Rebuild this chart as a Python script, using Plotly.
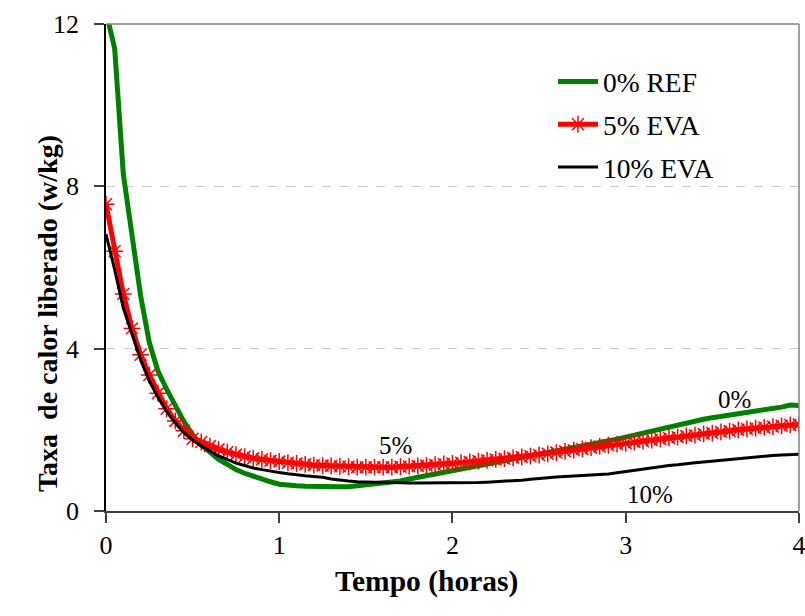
import plotly.graph_objects as go

# time in hours, every 0.05 h (3 min)
tempo = [round(i * 0.05, 2) for i in range(81)]

ref_0 = [12.3, 11.4, 8.3, 6.8, 5.3, 4.15, 3.45, 3.0, 2.6, 2.2,
         1.88, 1.62, 1.45, 1.27, 1.15, 1.02, 0.93, 0.85, 0.78, 0.72,
         0.66, 0.63, 0.62, 0.61, 0.6, 0.6, 0.6, 0.6, 0.6, 0.62,
         0.64, 0.67, 0.7, 0.72, 0.74, 0.79, 0.83, 0.88, 0.92, 0.97,
         1.0, 1.03, 1.08, 1.11, 1.15, 1.19, 1.25, 1.29, 1.32, 1.36,
         1.4, 1.44, 1.47, 1.51, 1.55, 1.59, 1.62, 1.66, 1.71, 1.77,
         1.82, 1.87, 1.93, 1.99, 2.03, 2.08, 2.13, 2.17, 2.21, 2.26,
         2.3, 2.33, 2.36, 2.39, 2.43, 2.46, 2.49, 2.52, 2.56, 2.61, 2.6]

eva_5 = [7.56, 6.4, 5.35, 4.5, 3.85, 3.35, 2.9, 2.52, 2.22, 1.98,
         1.78, 1.7, 1.6, 1.52, 1.45, 1.39, 1.34, 1.3, 1.27, 1.24,
         1.22, 1.19, 1.17, 1.15, 1.13, 1.12, 1.11, 1.1, 1.09, 1.08,
         1.08, 1.08, 1.08, 1.08, 1.09, 1.1, 1.11, 1.12, 1.14, 1.16,
         1.17, 1.19, 1.21, 1.23, 1.25, 1.27, 1.29, 1.31, 1.33, 1.35,
         1.38, 1.41, 1.44, 1.47, 1.5, 1.53, 1.56, 1.59, 1.62, 1.65,
         1.67, 1.7, 1.72, 1.75, 1.77, 1.8, 1.82, 1.85, 1.87, 1.9,
         1.92, 1.95, 1.97, 2.0, 2.02, 2.04, 2.06, 2.08, 2.1, 2.12, 2.13]

eva_10 = [6.82, 5.95, 5.0, 4.35, 3.72, 3.2, 2.8, 2.45, 2.17, 1.93,
          1.75, 1.6, 1.47, 1.36, 1.27, 1.18, 1.12, 1.06, 1.02, 0.98,
          0.95, 0.92, 0.89, 0.87, 0.85, 0.83, 0.79, 0.76, 0.74, 0.72,
          0.71, 0.71, 0.71, 0.7, 0.7, 0.69, 0.69, 0.69, 0.69, 0.69,
          0.69, 0.69, 0.69, 0.7, 0.71, 0.72, 0.74, 0.75, 0.76, 0.78,
          0.8, 0.83, 0.84, 0.85, 0.86, 0.87, 0.88, 0.89, 0.91, 0.94,
          0.97, 1.0, 1.04, 1.07, 1.1, 1.12, 1.14, 1.17, 1.19, 1.21,
          1.23, 1.25, 1.28, 1.3, 1.32, 1.34, 1.36, 1.37, 1.38, 1.39, 1.4]

series_names = ["0% REF", "5% EVA", "10% EVA"]
x_ticks = [0, 1, 2, 3, 4]
y_ticks = [0, 4, 8, 12]

curve_labels = ["0%", "5%", "10%"]
curve_label_x = [3.63, 1.67, 3.14]
curve_label_y = [2.75, 1.62, 0.4]

FONT = "Liberation Serif"

fig = go.Figure()
fig.add_trace(go.Scatter(x=tempo, y=ref_0, name=series_names[0], mode="lines",
                         line=dict(color="#008000", width=5), legendgroup="a"))
fig.add_trace(go.Scatter(x=tempo, y=eva_5, name=series_names[1], mode="lines+markers",
                         line=dict(color="#FF0000", width=5),
                         marker=dict(symbol="asterisk-open", size=14,
                                     line=dict(color="#FF0000", width=1.5)),
                         legendgroup="b"))
fig.add_trace(go.Scatter(x=tempo, y=eva_10, name=series_names[2], mode="lines",
                         line=dict(color="#000000", width=3), legendgroup="c"))

for txt, xx, yy in zip(curve_labels, curve_label_x, curve_label_y):
    fig.add_annotation(x=xx, y=yy, text=txt, showarrow=False,
                       font=dict(family=FONT, size=25, color="black"))

fig.add_annotation(xref="paper", yref="paper", x=0.462, y=-0.183,
                   text="<b>Tempo (horas)</b>", showarrow=False,
                   font=dict(family=FONT, size=29.5, color="black"))
fig.add_annotation(xref="paper", yref="paper", x=-0.11, y=0.405,
                   text="<b>Taxa \u00a0de calor liberado (w/kg)</b>", showarrow=False,
                   textangle=-90,
                   font=dict(family=FONT, size=28, color="black"))

# top and right frame lines
fig.add_shape(type="line", xref="paper", yref="paper", x0=0, x1=1, y0=1, y1=1,
              line=dict(color="#808080", width=1.5))
fig.add_shape(type="line", xref="paper", yref="paper", x0=1, x1=1, y0=0, y1=1,
              line=dict(color="#808080", width=1.5))

fig.update_layout(
    width=805, height=616,
    margin=dict(l=106, r=6, t=24, b=105),
    plot_bgcolor="white", paper_bgcolor="white",
    font=dict(family=FONT, size=26, color="black"),
    showlegend=True,
    legend=dict(x=0.645, y=0.932, xanchor="left", yanchor="top",
                bgcolor="rgba(0,0,0,0)", font=dict(family=FONT, size=27.5),
                tracegroupgap=4, itemwidth=40),
    xaxis=dict(range=[0, 4.0005], tickvals=x_ticks, showgrid=False, zeroline=False,
               showline=True, linecolor="#404040", linewidth=1.5,
               ticks="outside", ticklen=10, tickcolor="#404040", tickwidth=1.5,
               ticklabeloverflow="allow", automargin=False,
               tickfont=dict(family=FONT, size=26)),
    yaxis=dict(range=[0, 12], tickvals=y_ticks, showgrid=True, gridcolor="#C8C8C8",
               griddash="dash", gridwidth=1, zeroline=False,
               showline=True, linecolor="#000000", linewidth=1.5,
               ticks="outside", ticklen=10, tickcolor="#404040", tickwidth=1.5,
               ticklabelstandoff=10, automargin=False,
               tickfont=dict(family=FONT, size=26)),
)

fig.write_html("out.html")
